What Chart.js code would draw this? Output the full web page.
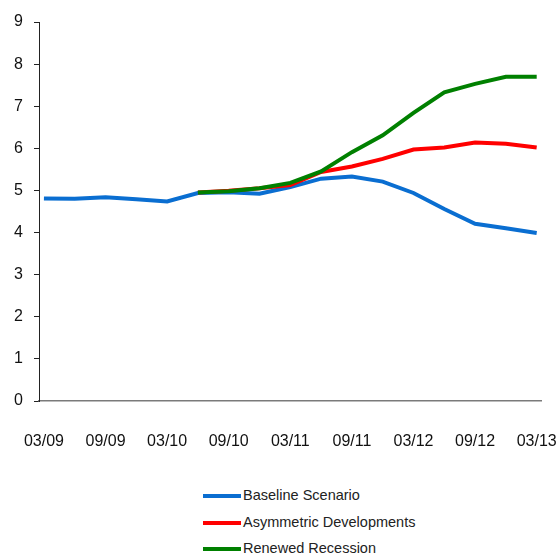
<!DOCTYPE html>
<html lang="en">
<head>
    <meta charset="UTF-8">
    <title>Scenarios</title>
    <script src="https://cdn.jsdelivr.net/npm/chart.js"></script>
    <style>
        html, body { margin: 0; padding: 0; background: #fff; overflow: hidden; }
        #wrap { position: relative; width: 558px; height: 465px; }
        #legend { position: absolute; left: 203px; top: 486px; font-family: "Liberation Sans", Arial, sans-serif; font-size: 14.5px; color: #222; }
        .item { position: absolute; left: 0; height: 20px; white-space: nowrap; }
        .item span.line { position: absolute; left: 0; top: 8px; width: 38px; height: 4px; }
        .item span.txt { position: absolute; left: 40px; top: 1px; }
    </style>
</head>
<body>
<div id="wrap"><canvas id="lineChart"></canvas></div>
<div id="legend"></div>

<script>
// quarterly data
var quarters = ['03/09', '06/09', '09/09', '12/09', '03/10', '06/10', '09/10', '12/10', '03/11',
                '06/11', '09/11', '12/11', '03/12', '06/12', '09/12', '12/12', '03/13'];
var baseline = [4.81, 4.80, 4.84, 4.79, 4.74, 4.94, 4.96, 4.92, 5.08, 5.28, 5.33, 5.21, 4.94, 4.56, 4.21, 4.10, 3.99];
var asymmetric = [null, null, null, null, null, 4.95, 4.99, 5.05, 5.13, 5.44, 5.57, 5.75, 5.97, 6.02, 6.14, 6.11, 6.02];
var recession = [null, null, null, null, null, 4.95, 4.98, 5.05, 5.18, 5.45, 5.91, 6.31, 6.84, 7.33, 7.53, 7.70, 7.70];
var seriesNames = ['Baseline Scenario', 'Asymmetric Developments', 'Renewed Recession'];
var seriesColors = ['#0a6ed1', '#ff0000', '#008000'];
var yTicks = [0, 1, 2, 3, 4, 5, 6, 7, 8, 9];
var xTickIdx = [0, 2, 4, 6, 8, 10, 12, 14, 16];

function toPoints(arr) {
    return arr.map(function (v, i) { return { x: i, y: v }; });
}

var font = { family: '"Liberation Sans", Arial, sans-serif', size: 16 };

var ctx = document.getElementById('lineChart').getContext('2d');
var chart = new Chart(ctx, {
    type: 'line',
    data: {
        datasets: [
            { label: seriesNames[0], data: toPoints(baseline), borderColor: seriesColors[0], order: 2 },
            { label: seriesNames[1], data: toPoints(asymmetric), borderColor: seriesColors[1], order: 1 },
            { label: seriesNames[2], data: toPoints(recession), borderColor: seriesColors[2], order: 0 }
        ]
    },
    options: {
        responsive: true,
        maintainAspectRatio: false,
        animation: false,
        layout: { padding: { top: 22, right: 17, left: 0, bottom: 0 } },
        elements: {
            line: { borderWidth: 4, tension: 0, fill: false },
            point: { radius: 0 }
        },
        plugins: { legend: { display: false }, tooltip: { enabled: false } },
        scales: {
            x: {
                type: 'linear',
                min: -0.16,
                max: 16.14,
                grid: { display: false, drawTicks: false },
                border: { display: true, color: '#7a7a7a', width: 1.5 },
                afterBuildTicks: function (s) { s.ticks = xTickIdx.map(function (v) { return { value: v }; }); },
                ticks: {
                    color: '#111', font: font, padding: 31, maxRotation: 0, autoSkip: false,
                    callback: function (v) { return quarters[v]; }
                },
                afterFit: function (s) { s.height = 64; s.paddingLeft = 0; s.paddingRight = 0; }
            },
            y: {
                min: 0,
                max: 9,
                afterBuildTicks: function (s) { s.ticks = yTicks.map(function (v) { return { value: v }; }); },
                grid: { drawOnChartArea: false, drawTicks: true, tickLength: 5, color: '#222' },
                border: { display: true, color: '#222', width: 1 },
                ticks: { color: '#111', font: font, padding: 11 },
                afterFit: function (s) { s.width = 39; s.paddingTop = 0; s.paddingBottom = 0; }
            }
        }
    }
});

// legend stacked under the plot
var legend = document.getElementById('legend');
seriesNames.forEach(function (name, i) {
    var item = document.createElement('div');
    item.className = 'item';
    item.style.top = (i * 26.5) + 'px';
    item.innerHTML = '<span class="line" style="background:' + seriesColors[i] + '"></span><span class="txt">' + name + '</span>';
    legend.appendChild(item);
});
</script>
</body>
</html>
